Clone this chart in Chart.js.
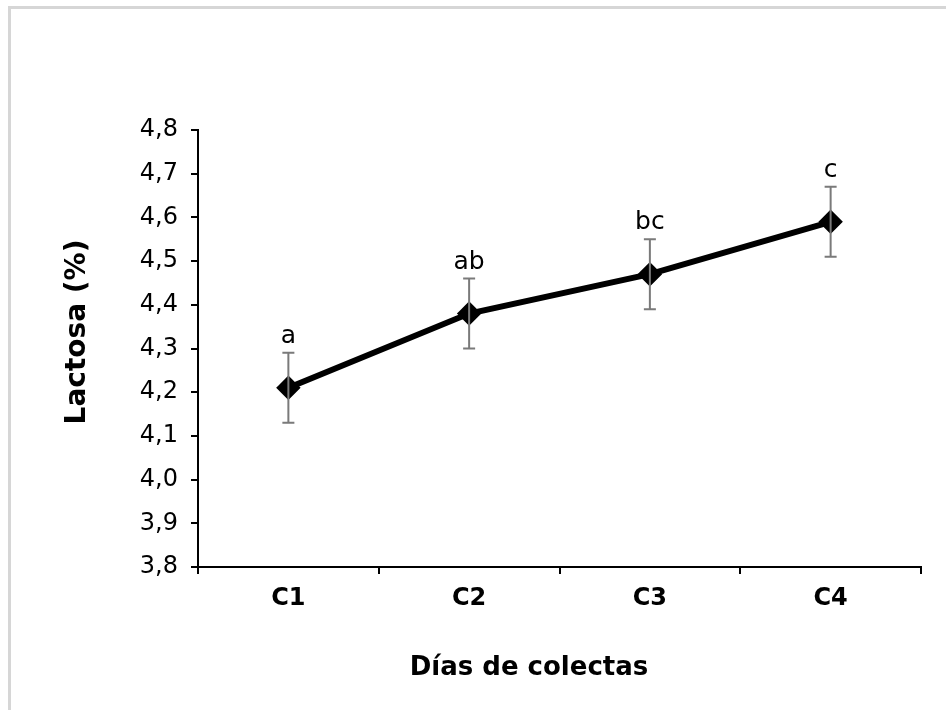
<!DOCTYPE html>
<html>
<head>
<meta charset="utf-8">
<script src="https://cdn.jsdelivr.net/npm/chart.js@4"></script>
<style>
  body { margin: 0; background: #fff; }
  #marco { position: absolute; left: 8px; top: 6px; width: 960px; height: 720px;
           border-top: 3px solid #d6d6d6; border-left: 3px solid #d6d6d6; }
  canvas { position: absolute; left: 0; top: 0; }
</style>
</head>
<body>
<div id="marco"></div>
<canvas id="grafico" width="946" height="710"></canvas>
<script>
// datos
var dias = ['C1', 'C2', 'C3', 'C4']
var lactosa = [4.21, 4.38, 4.47, 4.59]
var errorEst = [0.08, 0.08, 0.08, 0.08]
var letras = ['a', 'ab', 'bc', 'c']
var yMin = 3.8
var yMax = 4.8
var yPaso = 0.1
var tituloX = 'Días de colectas'
var tituloY = 'Lactosa (%)'

// barras de error, letras de significancia y titulos de ejes
var barrasError = {
    id: 'barrasError',
    afterDatasetsDraw(chart) {
        var ctx = chart.ctx
        var meta = chart.getDatasetMeta(0)
        var y = chart.scales.y
        ctx.save()
        for (var i = 0; i < lactosa.length; i++) {
            var x = meta.data[i].x
            var arriba = y.getPixelForValue(lactosa[i] + errorEst[i])
            var abajo = y.getPixelForValue(lactosa[i] - errorEst[i])
            ctx.strokeStyle = '#7a7a7a'
            ctx.lineWidth = 2
            ctx.beginPath()
            ctx.moveTo(x, arriba); ctx.lineTo(x, abajo)
            ctx.moveTo(x - 6, arriba); ctx.lineTo(x + 6, arriba)
            ctx.moveTo(x - 6, abajo); ctx.lineTo(x + 6, abajo)
            ctx.stroke()
            ctx.fillStyle = '#000'
            ctx.font = '25px "DejaVu Sans"'
            ctx.textAlign = 'center'
            ctx.textBaseline = 'alphabetic'
            ctx.fillText(letras[i], x, arriba - 10)
        }
        // titulos (un poco corridos respecto al centro, como en el original)
        ctx.font = 'bold 26px "DejaVu Sans"'
        ctx.textBaseline = 'middle'
        ctx.fillText(tituloX, 529, 668)
        ctx.translate(78, 332)
        ctx.rotate(-Math.PI / 2)
        ctx.font = 'bold 28px "DejaVu Sans"'
        ctx.fillText(tituloY, 0, 0)
        ctx.restore()
    }
}

var ctx = document.getElementById('grafico').getContext('2d')
var chart = new Chart(ctx, {
    type: 'line',
    data: {
        labels: dias,
        datasets: [{
            data: lactosa,
            borderColor: '#000',
            backgroundColor: '#000',
            borderWidth: 6,
            pointStyle: 'rectRot',
            pointRadius: 8,
            pointBackgroundColor: '#000',
            pointBorderColor: '#000',
            tension: 0
        }]
    },
    options: {
        responsive: false,
        animation: false,
        layout: { padding: { top: 130, right: 25, left: 0, bottom: 0 } },
        plugins: { legend: { display: false }, tooltip: { enabled: false } },
        scales: {
            x: {
                offset: true,
                grid: { offset: true, drawOnChartArea: false, tickLength: 7, color: '#000', lineWidth: 2 },
                border: { color: '#000', width: 2 },
                ticks: { color: '#000', padding: 10, font: { family: 'DejaVu Sans', size: 24, weight: 'bold' } },
                afterFit: function (s) { s.height = 143 }
            },
            y: {
                min: yMin,
                max: yMax,
                grid: { drawOnChartArea: false, tickLength: 7, color: '#000', lineWidth: 2 },
                border: { color: '#000', width: 2 },
                ticks: {
                    stepSize: yPaso,
                    color: '#000',
                    padding: 13,
                    font: { family: 'DejaVu Sans', size: 24 },
                    callback: function (v) { return v.toFixed(1).replace('.', ',') }
                },
                afterFit: function (s) { s.width = 198 }
            }
        }
    },
    plugins: [barrasError]
})
</script>
</body>
</html>
